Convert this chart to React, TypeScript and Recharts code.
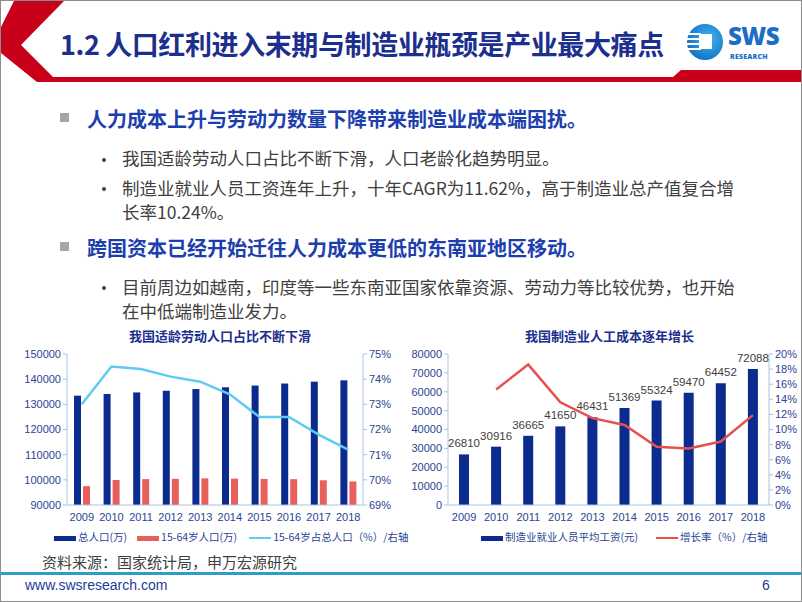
import React from "react"
import { ComposedChart, Bar, Line, XAxis, YAxis, LabelList } from "recharts"

const years = ["2009", "2010", "2011", "2012", "2013", "2014", "2015", "2016", "2017", "2018"]

// left chart: 总人口 / 15-64岁人口 (万人), share (%)
const totalPop = [133450, 134091, 134735, 135404, 136072, 136782, 137462, 138271, 139008, 139538]
const workPop = [97484, 99938, 100283, 100403, 100582, 100469, 100361, 100260, 99829, 99357]
const workShare = [73.0, 74.5, 74.4, 74.1, 73.9, 73.4, 72.5, 72.5, 71.8, 71.2]
const popTicks = [90000, 100000, 110000, 120000, 130000, 140000, 150000]
const shareTicks = [69, 70, 71, 72, 73, 74, 75]

// right chart: 平均工资 (元), growth (%)
const wage = [26810, 30916, 36665, 41650, 46431, 51369, 55324, 59470, 64452, 72088]
const wageGrowth = [null, 15.3, 18.6, 13.6, 11.5, 10.6, 7.7, 7.5, 8.4, 11.9]
const wageTicks = [0, 10000, 20000, 30000, 40000, 50000, 60000, 70000, 80000]
const growthTicks = [0, 2, 4, 6, 8, 10, 12, 14, 16, 18, 20]

const popData = years.map((y, i) => ({ year: y, total: totalPop[i], work: workPop[i], share: workShare[i] }))
const wageData = years.map((y, i) => ({ year: y, wage: wage[i], growth: wageGrowth[i] }))

const NAVY = "#0b2b8e"
const RED = "#e8605c"
const SKY = "#5ecbf0"
const LINE_RED = "#e8504f"
const AXIS = "#a9c3e0"
const TICK = { fontSize: 11, fill: "#2a4593", fontFamily: "Liberation Sans, Arial, sans-serif" }
const CJK = "'Noto Sans CJK SC', sans-serif"

const abs = (x: number, y: number): React.CSSProperties => ({ position: "absolute", left: x, top: y })

function Swatch({ color, line }: { color: string; line?: boolean }) {
  return (
    <span
      style={{
        display: "inline-block",
        width: 22,
        height: line ? 2 : 5,
        background: color,
        marginRight: 2,
        verticalAlign: "middle",
      }}
    />
  )
}

function LegendRow({ x, y, items }: { x: number; y: number; items: Array<{ c: string; t: string; line?: boolean; gap: number }> }) {
  return (
    <div style={{ ...abs(x, y), fontSize: 10.5, color: "#2a4593", fontFamily: CJK, whiteSpace: "nowrap", lineHeight: "14px" }}>
      {items.map((it) => (
        <span key={it.t} style={{ marginRight: it.gap }}>
          <Swatch color={it.c} line={it.line} />
          {it.t}
        </span>
      ))}
    </div>
  )
}

function Header() {
  return (
    <>
      <svg width={802} height={90} style={abs(0, 0)}>
        <polygon
          points="13,0 63,0 20,44 52,76 672,76 680,69 802,69 802,81 36,81 0,52 0,26"
          fill="#c8001a"
        />
      </svg>
      <div
        style={{
          ...abs(59, 23),
          fontFamily: CJK,
          fontSize: 27,
          fontWeight: 700,
          color: "#1c2f8e",
          whiteSpace: "nowrap",
          letterSpacing: -0.4,
        }}
      >
        1.2 人口红利进入末期与制造业瓶颈是产业最大痛点
      </div>
      <svg width={40} height={40} style={abs(684, 21)}>
        <defs>
          <radialGradient id="logoGrad" cx="0.6" cy="0.4" r="0.7">
            <stop offset="0%" stopColor="#3fb4ef" />
            <stop offset="100%" stopColor="#0f6cc0" />
          </radialGradient>
        </defs>
        <circle cx={20} cy={20} r={18} fill="url(#logoGrad)" />
        <rect x={2} y={11} width={14} height={2} fill="#fff" />
        <rect x={1} y={16} width={15} height={2} fill="#fff" />
        <rect x={1} y={21} width={15} height={2} fill="#fff" />
        <rect x={2} y={26} width={14} height={2} fill="#fff" />
        <rect x={14} y={12} width={13} height={15} fill="#fff" />
      </svg>
      <div style={{ ...abs(727, 18), fontFamily: "'Open Sans', sans-serif", fontWeight: 800, fontSize: 24, color: "#1b6ec5", letterSpacing: -0.5 }}>
        SWS
      </div>
      <div style={{ ...abs(729, 52), fontFamily: "'Open Sans', sans-serif", fontWeight: 800, fontSize: 7, lineHeight: "8px", color: "#1b6ec5", letterSpacing: 0.2 }}>
        RESEARCH
      </div>
    </>
  )
}

function Body() {
  const head: React.CSSProperties = { fontFamily: CJK, fontSize: 20, fontWeight: 700, color: "#1d3fae", whiteSpace: "nowrap" }
  const sub: React.CSSProperties = { fontFamily: CJK, fontSize: 17.5, color: "#404040", whiteSpace: "nowrap" }
  const sq: React.CSSProperties = { position: "absolute", width: 9, height: 9, background: "#a6a6a6" }
  const dot: React.CSSProperties = { position: "absolute", width: 4, height: 4, borderRadius: 2, background: "#404040" }
  return (
    <>
      <div style={{ ...sq, left: 59, top: 112 }} />
      <div style={{ ...abs(86, 103), ...head }}>人力成本上升与劳动力数量下降带来制造业成本端困扰。</div>
      <div style={{ ...dot, left: 101, top: 157 }} />
      <div style={{ ...abs(121, 144), ...sub }}>我国适龄劳动人口占比不断下滑，人口老龄化趋势明显。</div>
      <div style={{ ...dot, left: 101, top: 186 }} />
      <div style={{ ...abs(121, 174), ...sub }}>制造业就业人员工资连年上升，十年CAGR为11.62%，高于制造业总产值复合增</div>
      <div style={{ ...abs(121, 198), ...sub }}>长率10.24%。</div>
      <div style={{ ...sq, left: 59, top: 241 }} />
      <div style={{ ...abs(86, 232), ...head }}>跨国资本已经开始迁往人力成本更低的东南亚地区移动。</div>
      <div style={{ ...dot, left: 101, top: 285 }} />
      <div style={{ ...abs(121, 273), ...sub }}>目前周边如越南，印度等一些东南亚国家依靠资源、劳动力等比较优势，也开始</div>
      <div style={{ ...abs(121, 297), ...sub }}>在中低端制造业发力。</div>
    </>
  )
}

function PopChart() {
  return (
    <div style={abs(0, 345)}>
      <ComposedChart width={410} height={181} data={popData} margin={{ top: 8, right: 0, bottom: 0, left: 6 }} barGap={2}>
        <XAxis dataKey="year" tick={TICK} axisLine={{ stroke: AXIS }} tickLine={false} interval={0} height={22} />
        <YAxis
          yAxisId="l"
          domain={[90000, 150000]}
          ticks={popTicks}
          tick={TICK}
          width={60}
          axisLine={{ stroke: AXIS }}
          tickLine={{ stroke: AXIS }}
          tickSize={4}
          interval={0}
        />
        <YAxis
          yAxisId="r"
          orientation="right"
          domain={[69, 75]}
          ticks={shareTicks}
          tickFormatter={(v) => `${v}%`}
          tick={TICK}
          width={48}
          axisLine={{ stroke: AXIS }}
          tickLine={{ stroke: AXIS }}
          tickSize={4}
          interval={0}
        />
        <Bar yAxisId="l" dataKey="total" fill={NAVY} barSize={7} isAnimationActive={false} />
        <Bar yAxisId="l" dataKey="work" fill={RED} barSize={7} isAnimationActive={false} />
        <Line yAxisId="r" dataKey="share" stroke={SKY} strokeWidth={2.5} dot={false} type="linear" isAnimationActive={false} />
      </ComposedChart>
    </div>
  )
}

function WageChart() {
  return (
    <div style={abs(400, 345)}>
      <ComposedChart width={402} height={181} data={wageData} margin={{ top: 8, right: 0, bottom: 0, left: 6 }}>
        <XAxis dataKey="year" tick={TICK} axisLine={{ stroke: AXIS }} tickLine={false} interval={0} height={22} />
        <YAxis
          yAxisId="l"
          domain={[0, 80000]}
          ticks={wageTicks}
          tick={TICK}
          width={41}
          axisLine={{ stroke: AXIS }}
          tickLine={{ stroke: AXIS }}
          tickSize={4}
          interval={0}
        />
        <YAxis
          yAxisId="r"
          orientation="right"
          domain={[0, 20]}
          ticks={growthTicks}
          tickFormatter={(v) => `${v}%`}
          tick={TICK}
          width={34}
          axisLine={{ stroke: AXIS }}
          tickLine={{ stroke: AXIS }}
          tickSize={4}
          interval={0}
        />
        <Bar yAxisId="l" dataKey="wage" fill={NAVY} barSize={10} isAnimationActive={false}>
          <LabelList dataKey="wage" position="top" offset={7} fill="#404040" fontSize={11.5} fontFamily="Liberation Sans, Arial, sans-serif" />
        </Bar>
        <Line yAxisId="r" dataKey="growth" stroke={LINE_RED} strokeWidth={2.5} dot={false} type="linear" isAnimationActive={false} connectNulls={false} />
      </ComposedChart>
    </div>
  )
}

export default function App() {
  const title: React.CSSProperties = { fontFamily: CJK, fontSize: 13, fontWeight: 700, color: "#1c2f8e", whiteSpace: "nowrap" }
  return (
    <div
      style={{
        position: "absolute",
        left: 0,
        top: 0,
        width: 802,
        height: 602,
        background: "#fff",
        border: "1px solid #8c8c8c",
        boxSizing: "border-box",
        overflow: "hidden",
      }}
    >
      <Header />
      <Body />
      <div style={{ ...abs(128, 325), ...title }}>我国适龄劳动人口占比不断下滑</div>
      <div style={{ ...abs(524, 325), ...title }}>我国制造业人工成本逐年增长</div>
      <PopChart />
      <WageChart />
      <LegendRow
        x={53}
        y={529}
        items={[
          { c: NAVY, t: "总人口(万)", gap: 10 },
          { c: RED, t: "15-64岁人口(万)", gap: 12 },
          { c: SKY, t: "15-64岁占总人口（%）/右轴", line: true, gap: 0 },
        ]}
      />
      <LegendRow
        x={480}
        y={529}
        items={[
          { c: NAVY, t: "制造业就业人员平均工资(元)", gap: 18 },
          { c: LINE_RED, t: "增长率（%）/右轴", line: true, gap: 0 },
        ]}
      />
      <div style={{ ...abs(41, 550), fontFamily: CJK, fontSize: 15, color: "#404040", whiteSpace: "nowrap" }}>
        资料来源：国家统计局，申万宏源研究
      </div>
      <div style={{ position: "absolute", left: 0, top: 571, width: 802, height: 3, background: "#2a9fcb" }} />
      <div style={{ ...abs(24, 576), fontFamily: "Liberation Sans, Arial, sans-serif", fontSize: 14, color: "#1f3b95" }}>
        www.swsresearch.com
      </div>
      <div style={{ ...abs(761, 576), fontFamily: "Liberation Sans, Arial, sans-serif", fontSize: 14, color: "#1f3b95" }}>6</div>
    </div>
  )
}
